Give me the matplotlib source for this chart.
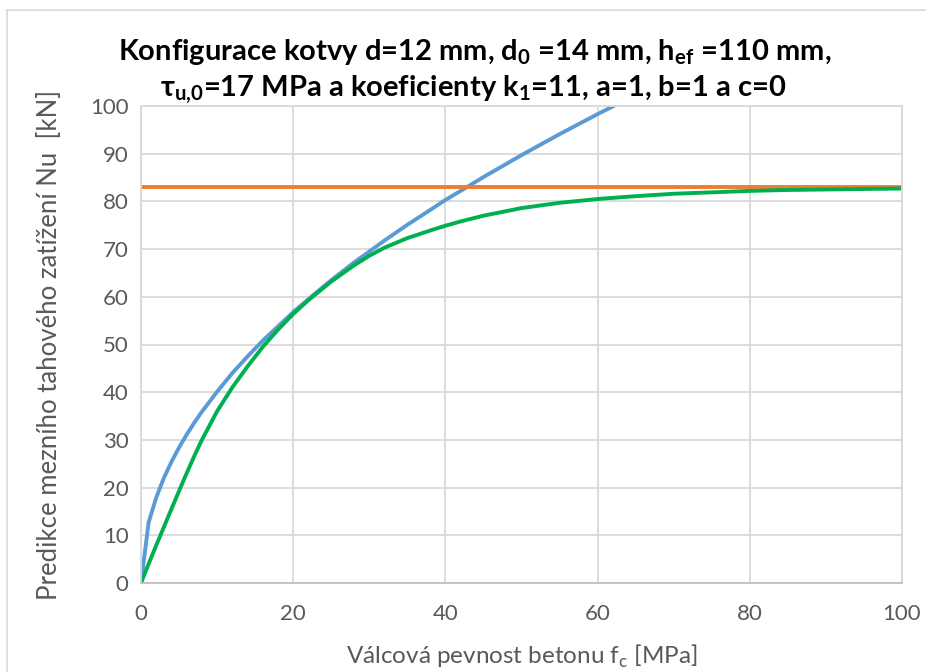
import matplotlib.pyplot as plt
from matplotlib.lines import Line2D

plt.rcParams['font.family'] = ['Lato', 'DejaVu Sans']

# concrete strength fc [MPa]
fc = [0, 1, 2, 3, 4, 5, 6, 7, 8, 10, 12, 14, 16, 18, 20, 22, 25, 28, 30,
      32, 35, 38, 40, 42, 45, 50, 55, 60, 65, 70, 75, 80, 85, 90, 95, 100]
# predicted ultimate tensile load Nu [kN]
n_cone = [0, 12.7, 17.9, 22.0, 25.4, 28.4, 31.1, 33.6, 35.9, 40.1, 44.0, 47.5,
          50.8, 53.8, 56.8, 59.5, 63.5, 67.2, 69.5, 71.8, 75.1, 78.2, 80.3,
          82.2, 85.1, 89.7, 94.1, 98.3, 102.3, 106.2, 109.9, 113.5, 117.0,
          120.4, 123.7, 126.9]
n_bond = [83.0] * len(fc)
n_comb = [0, 4.0, 7.9, 11.7, 15.5, 19.3, 23.0, 26.6, 30.0, 36.0, 41.0, 45.4,
          49.5, 53.1, 56.4, 59.3, 63.2, 66.6, 68.6, 70.3, 72.3, 73.9, 74.9,
          75.8, 77.0, 78.6, 79.7, 80.5, 81.1, 81.6, 81.9, 82.2, 82.4, 82.5,
          82.6, 82.7]

W, H = 926, 672
fig = plt.figure(figsize=(W / 100, H / 100), dpi=100)
ax = fig.add_axes([141 / W, 1 - 583 / H, (902 - 141) / W, (583 - 106) / H])

ax.plot(fc, n_cone, color='#5B9BD5', lw=2.8, solid_capstyle='butt')
ax.plot(fc, n_bond, color='#ED7D31', lw=2.8, solid_capstyle='butt')
ax.plot(fc, n_comb, color='#00B050', lw=2.8, solid_capstyle='butt')

ax.set_xlim(0, 100)
ax.set_ylim(0, 100)
ax.set_xticks(range(0, 101, 20))
ax.set_yticks(range(0, 101, 10))
ax.grid(True, color='#D9D9D9', lw=1.3)
ax.set_axisbelow(True)
for s in ax.spines.values():
    s.set_color('#D9D9D9')
    s.set_linewidth(1.3)
ax.spines['bottom'].set_color('#BFBFBF')
ax.tick_params(length=0, labelsize=16, labelcolor='#595959')
ax.tick_params(axis='y', pad=9)
ax.tick_params(axis='x', pad=15)

ax.set_xlabel('Válcová pevnost betonu f$_\\mathregular{c}$ [MPa]',
              fontsize=17.5, color='#595959', labelpad=14)
ax.set_ylabel('Predikce mezního tahového zatížení Nu  [kN]',
              fontsize=18.5, color='#595959', labelpad=20)

fig.text(475 / W, 1 - 52 / H,
         'Konfigurace kotvy d=12 mm, d$_\\mathregular{0}$ =14 mm, '
         'h$_\\mathregular{ef}$ =110 mm,',
         ha='center', va='center', fontsize=21, fontweight='bold')
fig.text(473 / W, 1 - 90 / H,
         '$\\mathregular{\\tau}_\\mathregular{u{,}0}$=17 MPa a koeficienty '
         'k$_\\mathregular{1}$=11, a=1, b=1 a c=0',
         ha='center', va='center', fontsize=21, fontweight='bold')

# chart area border (top and left edges visible)
fig.add_artist(Line2D([7 / W, 1], [1 - 10 / H, 1 - 10 / H], color='#D9D9D9', lw=1.2))
fig.add_artist(Line2D([7 / W, 7 / W], [0, 1 - 10 / H], color='#D9D9D9', lw=1.2))

fig.savefig('out.png', dpi=100)
